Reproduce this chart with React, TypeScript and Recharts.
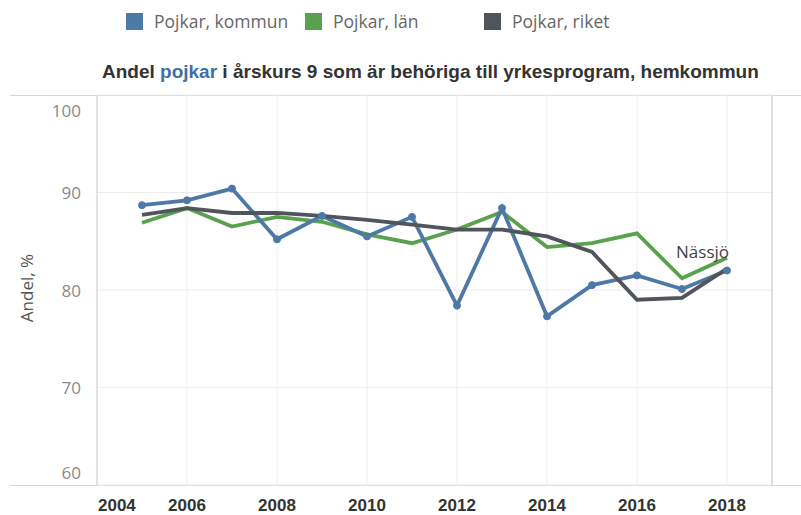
import React from "react";
import { LineChart, Line, XAxis, YAxis, CartesianGrid, ReferenceLine } from "recharts";

const years = [2005, 2006, 2007, 2008, 2009, 2010, 2011, 2012, 2013, 2014, 2015, 2016, 2017, 2018];
const kommun = [88.7, 89.2, 90.4, 85.2, 87.6, 85.5, 87.5, 78.4, 88.4, 77.3, 80.5, 81.5, 80.1, 82.0];
const lan = [86.9, 88.4, 86.5, 87.5, 87.0, 85.7, 84.8, 86.2, 88.0, 84.4, 84.8, 85.8, 81.2, 83.3];
const riket = [87.7, 88.4, 87.9, 87.9, 87.6, 87.2, 86.7, 86.2, 86.2, 85.5, 83.9, 79.0, 79.2, 82.2];

const xTicks = [2004, 2006, 2008, 2010, 2012, 2014, 2016, 2018];
const yTicks = [60, 70, 80, 90, 100];

const seriesNames = ["Pojkar, kommun", "Pojkar, län", "Pojkar, riket"];
const colors = ["#4e79a7", "#59a14f", "#50545b"];
const kommunName = "Nässjö";

const data = years.map((year, i) => ({ year, kommun: kommun[i], lan: lan[i], riket: riket[i] }));

const sans = "'Open Sans', sans-serif";

function YTick(props: any) {
  const { x, y, payload } = props;
  let dy = 0;
  if (payload.value === 100) dy = 15;
  if (payload.value === 60) dy = -13;
  return (
    <text x={x - 8} y={y + dy} textAnchor="end" dominantBaseline="central" fontFamily={sans} fontSize={17} fill="#8a8a8a">
      {payload.value}
    </text>
  );
}

function XTick(props: any) {
  const { x, y, payload } = props;
  const first = payload.value === xTicks[0];
  return (
    <text
      x={first ? x + 1 : x}
      y={y + 12}
      textAnchor={first ? "start" : "middle"}
      dominantBaseline="central"
      fontFamily="'Liberation Sans', Arial, sans-serif"
      fontWeight="bold"
      fontSize={17}
      fill="#333"
    >
      {payload.value}
    </text>
  );
}

const nameLabel = (props: any) => {
  const { x, y, index } = props;
  if (index !== years.length - 1) return <g />;
  return (
    <text x={x + 2} y={y - 13} textAnchor="end" fontFamily={sans} fontSize={17} fill="#444">
      {kommunName}
    </text>
  );
};

const legendLeft = [126, 305, 484];

export default function App() {
  return (
    <div style={{ position: "absolute", left: 0, top: 0, width: 801, height: 515, background: "#fff" }}>
      {seriesNames.map((name, i) => (
        <div key={name}>
          <div
            style={{
              position: "absolute",
              left: legendLeft[i],
              top: 13,
              width: 17,
              height: 17,
              background: colors[i],
            }}
          />
          <div
            style={{
              position: "absolute",
              left: legendLeft[i] + 28,
              top: 9,
              fontFamily: sans,
              fontSize: 17.5,
              lineHeight: "24px",
              color: "#666",
              whiteSpace: "nowrap",
            }}
          >
            {name}
          </div>
        </div>
      ))}
      <div
        style={{
          position: "absolute",
          left: 102,
          top: 60,
          fontFamily: "'Liberation Sans', Arial, sans-serif",
          fontWeight: "bold",
          fontSize: 19,
          lineHeight: "24px",
          color: "#333",
          whiteSpace: "nowrap",
        }}
      >
        Andel <span style={{ color: "#3e6fa3" }}>pojkar</span> i årskurs 9 som är behöriga till yrkesprogram, hemkommun
      </div>
      <div
        style={{
          position: "absolute",
          left: 26,
          top: 288,
          transform: "translate(-50%, -50%) rotate(-90deg)",
          fontFamily: sans,
          fontSize: 17,
          color: "#555",
          whiteSpace: "nowrap",
        }}
      >
        Andel, %
      </div>
      <div style={{ position: "absolute", left: 10, top: 95, width: 791, height: 1, background: "#d6d6d6" }} />
      <div style={{ position: "absolute", left: 10, top: 485, width: 791, height: 1, background: "#d6d6d6" }} />
      <LineChart
        width={801}
        height={515}
        data={data}
        margin={{ top: 95, right: 29, bottom: 0, left: 37 }}
        style={{ position: "absolute", left: 0, top: 0 }}
      >
        <CartesianGrid stroke="#ededed" strokeWidth={1} />
        <XAxis
          dataKey="year"
          type="number"
          domain={[2004, 2019]}
          ticks={xTicks}
          height={30}
          axisLine={false}
          tickLine={false}
          tick={<XTick />}
          interval={0}
        />
        <YAxis
          type="number"
          domain={[60, 100]}
          ticks={yTicks}
          width={60}
          axisLine={{ stroke: "#d0d0d0" }}
          tickLine={false}
          tick={<YTick />}
          interval={0}
        />
        <ReferenceLine x={2019} stroke="#d6d6d6" strokeWidth={1.5} />
        <Line
          dataKey="lan"
          stroke={colors[1]}
          strokeWidth={3.8}
          dot={false}
          isAnimationActive={false}
        />
        <Line
          dataKey="kommun"
          stroke={colors[0]}
          strokeWidth={3.8}
          dot={{ r: 3.5, fill: colors[0], stroke: colors[0], strokeWidth: 1 }}
          label={nameLabel}
          isAnimationActive={false}
        />
        <Line
          dataKey="riket"
          stroke={colors[2]}
          strokeWidth={3.8}
          dot={false}
          isAnimationActive={false}
        />
      </LineChart>
    </div>
  );
}
